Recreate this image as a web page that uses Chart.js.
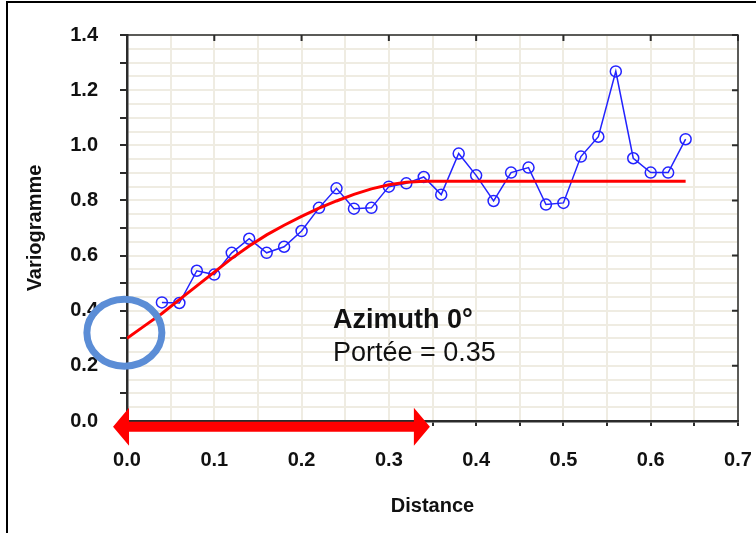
<!DOCTYPE html>
<html>
<head>
<meta charset="utf-8">
<script src="https://cdn.jsdelivr.net/npm/chart.js@4.4.0/dist/chart.umd.min.js"></script>
<style>
  html, body { margin: 0; padding: 0; background: #fff; }
  #wrap { width: 756px; height: 533px; }
</style>
</head>
<body>
<div id="wrap"><canvas id="myChart" width="756" height="533"></canvas></div>
<script>
// experimental variogram (lag distance, gamma)
const lagDistance = [0.04, 0.06, 0.08, 0.10, 0.12, 0.14, 0.16, 0.18, 0.20, 0.22, 0.24,
  0.26, 0.28, 0.30, 0.32, 0.34, 0.36, 0.38, 0.40, 0.42, 0.44, 0.46, 0.48, 0.50,
  0.52, 0.54, 0.56, 0.58, 0.60, 0.62, 0.64];
const gammaExp = [0.430, 0.428, 0.545, 0.531, 0.610, 0.661, 0.610, 0.632, 0.689, 0.773, 0.844,
  0.770, 0.773, 0.850, 0.862, 0.885, 0.821, 0.970, 0.891, 0.798, 0.901, 0.919, 0.785, 0.791,
  0.959, 1.031, 1.268, 0.953, 0.901, 0.901, 1.022];

// fitted model (red curve)
const modelDistance = [0, 0.02, 0.04, 0.06, 0.08, 0.10, 0.12, 0.14, 0.16, 0.18, 0.20,
  0.22, 0.24, 0.26, 0.28, 0.30, 0.32, 0.34, 0.64];
const modelGamma = [0.300, 0.345, 0.390, 0.440, 0.490, 0.540, 0.590, 0.635, 0.675, 0.710, 0.742,
  0.772, 0.798, 0.822, 0.842, 0.857, 0.866, 0.870, 0.870];

const xTickLabels = ['0.0', '0.1', '0.2', '0.3', '0.4', '0.5', '0.6', '0.7'];
const yTickLabels = ['0.0', '0.2', '0.4', '0.6', '0.8', '1.0', '1.2', '1.4'];

const titleText = 'Azimuth 0°';
const rangeText = 'Portée = 0.35';

const FONT = "'Liberation Sans', Arial, sans-serif";
const GRID = '#efece2';
const AXIS = '#2b2b2b';

// helper: is v a multiple of step (in hundredths)
function isMult(v, step) {
  return Math.abs(Math.round(v * 100) % Math.round(step * 100)) === 0;
}

const frameAndNotes = {
  id: 'frameAndNotes',
  beforeDraw(chart) {
    const c = chart.ctx;
    c.save();
    c.fillStyle = '#fff';
    c.fillRect(0, 0, chart.width, chart.height);
    c.fillStyle = '#000';
    c.fillRect(6, 1, 2, chart.height);
    c.fillRect(6, 1, chart.width, 2);
    c.restore();
  },
  afterDraw(chart) {
    const c = chart.ctx;
    const xs = chart.scales.x, ys = chart.scales.y;
    const a = chart.chartArea;
    c.save();
    // top and right frame of plot area
    c.strokeStyle = AXIS;
    c.lineWidth = 1.5;
    c.beginPath();
    c.moveTo(a.left, a.top); c.lineTo(a.right, a.top); c.lineTo(a.right, a.bottom);
    c.stroke();
    // inward mirror ticks
    c.lineWidth = 2;
    c.beginPath();
    for (let i = 1; i < xTickLabels.length; i++) {
      const px = xs.getPixelForValue(parseFloat(xTickLabels[i]));
      c.moveTo(px, a.top); c.lineTo(px, a.top + 6);
    }
    for (let i = 1; i < yTickLabels.length; i++) {
      const py = ys.getPixelForValue(parseFloat(yTickLabels[i]));
      c.moveTo(a.right, py); c.lineTo(a.right - 6, py);
    }
    c.stroke();

    // text box
    c.fillStyle = '#111';
    c.textBaseline = 'alphabetic';
    c.font = 'bold 27px ' + FONT;
    c.fillText(titleText, xs.getPixelForValue(0.236), ys.getPixelForValue(0.338));
    c.font = '27px ' + FONT;
    c.fillText(rangeText, xs.getPixelForValue(0.236), ys.getPixelForValue(0.216));

    // blue ellipse around the nugget
    c.strokeStyle = 'rgb(91,141,214)';
    c.lineWidth = 7;
    c.beginPath();
    c.ellipse(xs.getPixelForValue(-0.003), ys.getPixelForValue(0.32), 37.5, 33.5, 0, 0, Math.PI * 2);
    c.stroke();

    // red double arrow showing the range
    const x0 = xs.getPixelForValue(-0.016), x1 = xs.getPixelForValue(0.347);
    const yc = ys.getPixelForValue(-0.021);
    const hl = 16, hh = 19, sh = 5;
    c.fillStyle = '#ff0000';
    c.beginPath();
    c.moveTo(x0, yc);
    c.lineTo(x0 + hl, yc - hh);
    c.lineTo(x0 + hl, yc - sh);
    c.lineTo(x1 - hl, yc - sh);
    c.lineTo(x1 - hl, yc - hh);
    c.lineTo(x1, yc);
    c.lineTo(x1 - hl, yc + hh);
    c.lineTo(x1 - hl, yc + sh);
    c.lineTo(x0 + hl, yc + sh);
    c.lineTo(x0 + hl, yc + hh);
    c.closePath();
    c.fill();
    c.restore();
  }
};

const ctx = document.getElementById('myChart');

new Chart(ctx, {
  type: 'line',
  data: {
    datasets: [
      {
        label: 'Modèle',
        data: modelDistance.map((d, i) => ({ x: d, y: modelGamma[i] })),
        borderColor: '#ff0000',
        borderWidth: 3,
        pointRadius: 0,
        tension: 0,
        order: 0
      },
      {
        label: 'Expérimental',
        data: lagDistance.map((d, i) => ({ x: d, y: gammaExp[i] })),
        borderColor: '#2323ff',
        borderWidth: 1.5,
        pointRadius: 5.5,
        pointBorderWidth: 1.5,
        pointBorderColor: '#2323ff',
        pointBackgroundColor: 'rgba(0,0,0,0)',
        tension: 0,
        order: 1
      }
    ]
  },
  options: {
    responsive: false,
    animation: false,
    devicePixelRatio: 1,
    layout: { padding: { left: 0, top: 35, right: 18, bottom: 0 } },
    plugins: {
      legend: { display: false },
      tooltip: { enabled: false }
    },
    scales: {
      x: {
        type: 'linear',
        min: 0,
        max: 0.7,
        afterFit: s => { s.height = 112; s.paddingLeft = 0; s.paddingRight = 0; },
        ticks: {
          stepSize: 0.05,
          autoSkip: false,
          maxRotation: 0,
          padding: 22,
          color: '#111',
          font: { family: FONT, size: 20, weight: 'bold' },
          callback: v => {
            const k = Math.round(v * 10);
            return isMult(v, 0.1) && xTickLabels[k] !== undefined ? xTickLabels[k] : '';
          }
        },
        grid: {
          color: GRID,
          lineWidth: 2,
          tickLength: 5,
          tickWidth: 2,
          tickColor: AXIS
        },
        border: { color: AXIS, width: 2.5 },
        title: {
          display: true,
          text: 'Distance',
          color: '#111',
          font: { family: FONT, size: 20, weight: 'bold' },
          padding: { top: 0, bottom: 15 }
        }
      },
      y: {
        type: 'linear',
        min: 0,
        max: 1.4,
        afterFit: s => { s.width = 127; s.paddingTop = 0; s.paddingBottom = 0; },
        ticks: {
          stepSize: 0.05,
          autoSkip: false,
          padding: 22,
          color: '#111',
          font: { family: FONT, size: 20, weight: 'bold' },
          callback: v => {
            const k = Math.round(v * 5);
            return isMult(v, 0.2) && yTickLabels[k] !== undefined ? yTickLabels[k] : '';
          }
        },
        grid: {
          color: GRID,
          lineWidth: 2,
          tickLength: 7,
          tickWidth: 2,
          tickColor: c => isMult(c.tick.value, 0.1) ? AXIS : 'rgba(0,0,0,0)'
        },
        border: { color: AXIS, width: 2.5 },
        title: {
          display: true,
          text: 'Variogramme',
          color: '#111',
          font: { family: FONT, size: 20, weight: 'bold' },
          padding: { top: 23, bottom: 0 }
        }
      }
    }
  },
  plugins: [frameAndNotes]
});
</script>
</body>
</html>
